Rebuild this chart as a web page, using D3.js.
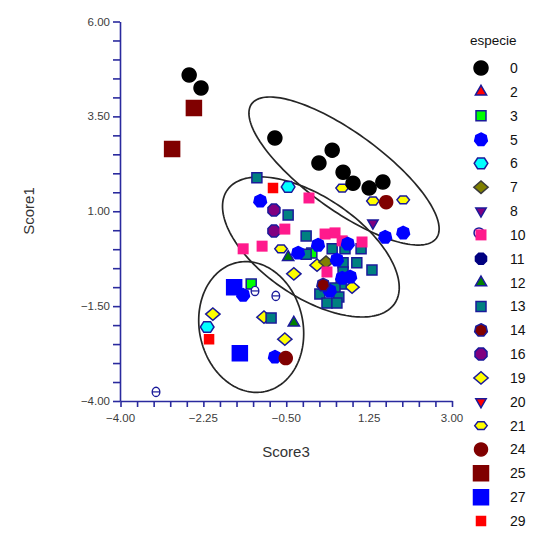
<!DOCTYPE html>
<html lang="es">
<head>
<meta charset="UTF-8">
<title>Score1 vs Score3</title>
<style>
  body { margin: 0; background: #fff; }
  text { font-family: "Liberation Sans", Arial, sans-serif; }
</style>
</head>
<body>
<div id="chart"></div>
<script src="https://d3js.org/d3.v7.min.js"></script>
<script>
// legend categories
var species = ["0","2","3","5","6","7","8","10","11","12","13","14","16","19","20","21","24","25","27","29"];

// marker styles per species (same order as above)
var shapes  = ["circle","tri","sq","hept","hex","dia","tridown","sqcirc","oct","tri","sq","hept","oct","dia","tridown","hexw","circle","sq","sq","sq"];
var fills   = ["#000000","#ff0000","#00ff00","#0000ff","#00ffff","#808000","#800080","#ff1a8c","#000080","#008000","#008080","#800000","#800080","#ffff00","#ff0000","#ffff00","#800000","#800000","#0000ff","#ff0000"];
var strokes = ["#000000","#1a1a9a","#1a1a9a","#0000ff","#1a1a9a","#3a3a3a","#1a1a9a","none","#000080","#1a1a9a","#1a1a9a","#1a1a9a","#1a1a9a","#1a1a9a","#1a1a9a","#1a1a9a","#800000","#800000","#0000ff","#ff0000"];
var sizes   = [7, 6.5, 5, 6.5, 6.5, 6.5, 6, 5.5, 6, 6.5, 5, 6.5, 6.5, 6.5, 6, 5, 6.5, 7.5, 7.5, 4.5];

// points: [especie, Score3, Score1]
var points = [
  ["12", -0.46, -0.21], ["12", -0.34, -1.94],
  ["19", 0.15, -0.42], ["19", -0.34, -0.65], ["19", 0.89, -1.00], ["19", -2.05, -1.71], ["19", -0.97, -1.79], ["19", -0.53, -2.37],
  ["21", 0.68, 1.61], ["21", 1.33, 1.27], ["21", 1.97, 1.30], ["21", -0.61, 0.01],
  ["3", -1.24, -0.92], ["3", 0.04, -0.10],
  ["13", -1.12, 1.88], ["13", -0.46, 0.90], ["13", -0.08, 0.35], ["13", -0.08, -0.13], ["13", 0.47, 0.01],
  ["13", 0.74, 0.01], ["13", 1.08, 0.01], ["13", 0.70, -0.36], ["13", 0.99, -0.36], ["13", 0.70, -0.60],
  ["13", 1.31, -0.55], ["13", 0.66, -0.92], ["13", 0.53, -1.02], ["13", 0.21, -1.18], ["13", 0.61, -1.26],
  ["13", 0.36, -1.42], ["13", 0.57, -1.42], ["13", -0.82, -1.81],
  ["7", 0.34, -0.34],
  ["16", -0.76, 1.03], ["16", -0.76, 0.48],
  ["10", -0.02, 1.35], ["10", -0.53, 0.53], ["10", 0.32, 0.40], ["10", 0.53, 0.43], ["10", 0.68, 0.22],
  ["10", 1.10, 0.19], ["10", -1.41, 0.01], ["10", -1.01, 0.08], ["10", 0.36, -0.60],
  ["5", -1.05, 1.27], ["5", 1.59, 0.32], ["5", 1.97, 0.43], ["5", -0.25, -0.10], ["5", 0.17, 0.11],
  ["5", 0.80, 0.14], ["5", 0.57, -0.28], ["5", 0.85, -0.73], ["5", 0.68, -0.76], ["5", 0.42, -1.10],
  ["5", -1.41, -1.21], ["5", -0.74, -2.84],
  ["6", -0.46, 1.64], ["6", -2.17, -2.05],
  ["29", -0.78, 1.61], ["29", -2.13, -2.37],
  ["14", 0.28, -0.94],
  ["8", 1.33, 0.69],
  ["24", 1.61, 1.24], ["24", -0.51, -2.87],
  ["25", -2.45, 3.72], ["25", -2.91, 2.64],
  ["27", -1.60, -1.00], ["27", -1.48, -2.74],
  ["0", -2.55, 4.59], ["0", -2.30, 4.25], ["0", -0.74, 2.93], ["0", 0.47, 2.61], ["0", 0.19, 2.27],
  ["0", 0.70, 2.03], ["0", 0.91, 1.74], ["0", 1.25, 1.61], ["0", 1.54, 1.77]
];

// small open markers with no legend entry
var unlabeled = [[-3.25, -3.76], [-0.72, -1.23], [-1.16, -1.10]];

// group ellipses: center and two half-axis vectors, in data units
var ellipses = [
  { cx: 0.72, cy: 2.06, ux: 1.95, uy: -1.77, vx: -0.48, vy: -0.82 },
  { cx: 0.02, cy: 0.06, ux: 1.77, uy: -1.49, vx: -0.59, vy: -1.09 },
  { cx: -1.24, cy: -2.05, ux: 0.29, uy: -1.70, vx: -1.07, vy: -0.28 }
];

var xTicks = [-4, -2.25, -0.5, 1.25, 3];
var yTicks = [-4, -1.5, 1, 3.5, 6];

var width = 542, height = 544;
var axisColor = "#2a2a9e";

var svg = d3.select("#chart").append("svg")
    .attr("width", width)
    .attr("height", height)
    .style("background", "#fff");

var x = d3.scaleLinear().domain([-4, 3]).range([120.5, 452]);
var y = d3.scaleLinear().domain([-4, 6]).range([401, 21.5]);

// regular polygon path, centered at 0,0
function polygon(n, r, rot, sx, sy) {
    sx = sx || 1; sy = sy || 1;
    var pts = d3.range(n).map(function(i) {
        var a = rot + i * 2 * Math.PI / n;
        return [r * sx * Math.cos(a), r * sy * Math.sin(a)];
    });
    return "M" + pts.join("L") + "Z";
}

function shapePath(shape, r) {
    switch (shape) {
        case "circle": return polygon(24, r, 0);
        case "tri": return polygon(3, r, -Math.PI / 2, 1, 1);
        case "tridown": return polygon(3, r, Math.PI / 2, 1, 1);
        case "sq": case "sqcirc": return polygon(4, r * Math.SQRT2, Math.PI / 4);
        case "dia": return polygon(4, r, 0, 1.1, 0.95);
        case "hept": return polygon(7, r, -Math.PI / 2);
        case "hex": return polygon(6, r, 0, 1.05, 0.95);
        case "hexw": return polygon(6, r, 0, 1.25, 0.9);
        case "oct": return polygon(8, r, Math.PI / 8);
    }
}

function drawMarker(g, sp, inLegend) {
    var i = species.indexOf(sp);
    var r = sizes[i];
    // the legend symbol for "10" shows an open circle behind the square
    if (inLegend && shapes[i] === "sqcirc") {
        g.append("circle")
            .attr("cx", -2).attr("cy", -2).attr("r", r * 0.9)
            .attr("fill", "#fff").attr("stroke", "#1a1a9a").attr("stroke-width", 1.5);
    }
    g.append("path")
        .attr("d", shapePath(shapes[i], r))
        .attr("fill", fills[i])
        .attr("stroke", strokes[i])
        .attr("stroke-width", strokes[i] === "none" ? 0 : 1.5);
}

// ellipses
var ellLine = d3.line()
    .x(function(p) { return x(p[0]); })
    .y(function(p) { return y(p[1]); })
    .curve(d3.curveLinearClosed);

svg.append("g").selectAll("path")
    .data(ellipses)
    .enter().append("path")
    .attr("d", function(e) {
        var pts = d3.range(0, 2 * Math.PI, Math.PI / 90).map(function(t) {
            return [e.cx + e.ux * Math.cos(t) + e.vx * Math.sin(t),
                    e.cy + e.uy * Math.cos(t) + e.vy * Math.sin(t)];
        });
        return ellLine(pts);
    })
    .attr("fill", "none")
    .attr("stroke", "#262626")
    .attr("stroke-width", 1.7);

// points
var markG = svg.append("g");
points.forEach(function(p) {
    var g = markG.append("g").attr("transform", "translate(" + x(p[1]) + "," + y(p[2]) + ")");
    drawMarker(g, p[0], false);
});

unlabeled.forEach(function(p) {
    var g = markG.append("g").attr("transform", "translate(" + x(p[0]) + "," + y(p[1]) + ")");
    g.append("ellipse").attr("rx", 3.8).attr("ry", 4.6)
        .attr("fill", "#fff").attr("stroke", "#1a1a9a").attr("stroke-width", 1.4);
    g.append("line").attr("x1", -3.5).attr("x2", 3.5)
        .attr("stroke", "#1a1a9a").attr("stroke-width", 1.2);
});

// axes
svg.append("g").attr("transform", "translate(120,0)")
    .call(d3.axisLeft(y).tickValues(d3.range(-4, 6.01, 0.5)).tickSize(7).tickSizeOuter(0).tickFormat(""));
svg.append("g").attr("transform", "translate(0,401)")
    .call(d3.axisBottom(x).tickValues(d3.range(-4, 3.01, 0.35)).tickSize(6).tickSizeOuter(0).tickFormat(""));
svg.selectAll(".domain, .tick line").attr("stroke", axisColor).attr("stroke-width", 1.6);

var fmt = d3.format(".2f");
svg.append("g").selectAll("text")
    .data(yTicks)
    .enter().append("text")
    .attr("x", 110)
    .attr("y", function(d) { return y(d) + 4; })
    .attr("text-anchor", "end")
    .attr("font-size", 11.5)
    .attr("fill", "#3c3c3c")
    .text(fmt);

svg.append("g").selectAll("text")
    .data(xTicks)
    .enter().append("text")
    .attr("x", function(d) { return x(d); })
    .attr("y", 422)
    .attr("text-anchor", "middle")
    .attr("font-size", 11.5)
    .attr("fill", "#3c3c3c")
    .text(fmt);

svg.append("text")
    .attr("x", 286).attr("y", 457)
    .attr("text-anchor", "middle")
    .attr("font-size", 15)
    .attr("fill", "#333")
    .text("Score3");

svg.append("text")
    .attr("transform", "translate(34,211) rotate(-90)")
    .attr("text-anchor", "middle")
    .attr("font-size", 15)
    .attr("fill", "#333")
    .text("Score1");

// legend
var legend = svg.append("g");
legend.append("text")
    .attr("x", 470).attr("y", 45)
    .attr("font-size", 13.5)
    .attr("fill", "#111")
    .text("especie");

var legendY = d3.scaleLinear().domain([0, species.length - 1]).range([68, 521]);
species.forEach(function(sp, i) {
    var g = legend.append("g").attr("transform", "translate(481," + legendY(i) + ")");
    drawMarker(g, sp, true);
    legend.append("text")
        .attr("x", 510).attr("y", legendY(i) + 5)
        .attr("font-size", 14)
        .attr("fill", "#111")
        .text(sp);
});
</script>
</body>
</html>
